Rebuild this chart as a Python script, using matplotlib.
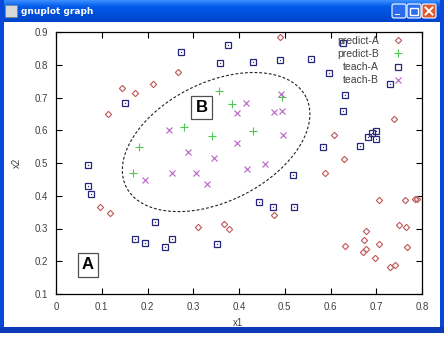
import numpy as np
import matplotlib
matplotlib.use('Agg')
import matplotlib.pyplot as plt
from matplotlib.patches import Rectangle, FancyBboxPatch

plt.rcParams['font.family'] = ['Liberation Sans', 'DejaVu Sans']

# predict-A (diamonds)
pa_x = [0.266, 0.144, 0.172, 0.211, 0.113, 0.490, 0.738, 0.608, 0.630, 0.097,
        0.119, 0.310, 0.367, 0.379, 0.589, 0.477, 0.705, 0.763, 0.785, 0.790,
        0.750, 0.765, 0.678, 0.673, 0.677, 0.670, 0.632, 0.705, 0.767, 0.698,
        0.729, 0.741]
pa_y = [0.779, 0.728, 0.714, 0.740, 0.651, 0.886, 0.633, 0.586, 0.511, 0.365,
        0.347, 0.305, 0.314, 0.298, 0.469, 0.340, 0.388, 0.388, 0.390, 0.390,
        0.312, 0.305, 0.292, 0.265, 0.238, 0.228, 0.248, 0.252, 0.244, 0.210,
        0.181, 0.188]

# predict-B (plus)
pb_x = [0.356, 0.384, 0.279, 0.340, 0.181, 0.495, 0.430, 0.168]
pb_y = [0.720, 0.679, 0.609, 0.582, 0.548, 0.701, 0.598, 0.470]

# teach-A (squares)
ta_x = [0.377, 0.273, 0.359, 0.150, 0.069, 0.627, 0.430, 0.490, 0.557, 0.596,
        0.729, 0.632, 0.628, 0.699, 0.691, 0.681, 0.700, 0.665, 0.584, 0.069,
        0.077, 0.217, 0.173, 0.194, 0.254, 0.239, 0.352, 0.517, 0.443, 0.474,
        0.521]
ta_y = [0.860, 0.840, 0.805, 0.682, 0.493, 0.866, 0.809, 0.815, 0.818, 0.775,
        0.742, 0.708, 0.659, 0.597, 0.592, 0.578, 0.572, 0.552, 0.550, 0.431,
        0.404, 0.321, 0.267, 0.257, 0.267, 0.244, 0.254, 0.463, 0.382, 0.367,
        0.367]

# teach-B (crosses)
tb_x = [0.416, 0.396, 0.247, 0.396, 0.288, 0.346, 0.417, 0.492, 0.477, 0.495,
        0.497, 0.457, 0.254, 0.305, 0.329, 0.195]
tb_y = [0.682, 0.653, 0.600, 0.560, 0.535, 0.515, 0.481, 0.711, 0.656, 0.660,
        0.585, 0.497, 0.470, 0.470, 0.437, 0.449]

x_ticks = [0, 0.1, 0.2, 0.3, 0.4, 0.5, 0.6, 0.7, 0.8]
x_labels = ['0', '0.1', '0.2', '0.3', '0.4', '0.5', '0.6', '0.7', '0.8']
y_ticks = [0.1, 0.2, 0.3, 0.4, 0.5, 0.6, 0.7, 0.8, 0.9]
y_labels = ['0.1', '0.2', '0.3', '0.4', '0.5', '0.6', '0.7', '0.8', '0.9']

W, H = 444, 342
fig = plt.figure(figsize=(W / 100, H / 100), dpi=100)
fig.patch.set_facecolor('white')

# window frame (pixel coordinates)
bg = fig.add_axes([0, 0, 1, 1])
bg.axis('off')

top = np.array([0x3a, 0x8c, 0xff]) / 255
mid = np.array([0x00, 0x5a, 0xe8]) / 255
bot = np.array([0x00, 0x44, 0xcc]) / 255
t = np.linspace(0, 1, 22)[:, None]
grad = np.where(t < 0.3, top + (mid - top) * (t / 0.3), mid + (bot - mid) * ((t - 0.3) / 0.7))
bg.imshow(grad.reshape(22, 1, 3), extent=[0, W, 22, 0], aspect='auto')
bg.set_xlim(0, W)
bg.set_ylim(H, 0)
bg.add_patch(Rectangle((0, 0), 4, 333, color='#0848d8', lw=0))
bg.add_patch(Rectangle((440, 0), 4, 333, color='#0848d8', lw=0))
bg.add_patch(Rectangle((0, 327), W, 6, color='#0a3ab8', lw=0))

# title bar icon and text
bg.add_patch(Rectangle((5, 5), 12, 12, fc='#d8d8d8', ec='#808080', lw=0.5))
bg.text(21, 11.5, 'gnuplot graph', color='white', fontsize=6.5, fontweight='bold',
        va='center', ha='left', family='DejaVu Sans')

# title bar buttons
for bx, col in [(392, '#2a6cf0'), (407, '#2a6cf0'), (422, '#e05a30')]:
    bg.add_patch(FancyBboxPatch((bx, 4), 14, 14, boxstyle='round,pad=0,rounding_size=2',
                                fc=col, ec='white', lw=0.8))
bg.add_patch(Rectangle((395, 13.5), 5, 1.6, color='white', lw=0))
bg.add_patch(Rectangle((410, 7.5), 8, 7.5, fc='none', ec='white', lw=1.0))
bg.plot([425.5, 432.5], [7.5, 14.5], color='white', lw=1.4)
bg.plot([425.5, 432.5], [14.5, 7.5], color='white', lw=1.4)

# main plot
ax = fig.add_axes([56 / W, 1 - 294 / H, 366 / W, 262 / H])
ax.set_xlim(0, 0.8)
ax.set_ylim(0.1, 0.9)

ax.plot(pa_x, pa_y, linestyle='none', marker='D', ms=3.2, mfc='none',
        mec='#c05858', mew=0.8, label='predict-A')
ax.plot(pb_x, pb_y, linestyle='none', marker='+', ms=5.5, mec='#50c850',
        mew=0.8, label='predict-B')
ax.plot(ta_x, ta_y, linestyle='none', marker='s', ms=3.8, mfc='none',
        mec='#26267a', mew=0.9, label='teach-A')
ax.plot(ta_x, ta_y, linestyle='none', marker='s', ms=0.8, mfc='#26267a',
        mec='#26267a', mew=0)
ax.plot(tb_x, tb_y, linestyle='none', marker='x', ms=4.5, mec='#b860c8',
        mew=0.8, label='teach-B')

# dashed ellipse around region B
ecx, ecy = 0.350, 0.564
ea, eb, eang = 100.5, 59.4, np.radians(26.5)
sx, sy = 0.8 / 366, 0.8 / 262
tt = np.linspace(0, 2 * np.pi, 300)
ex = ecx + (ea * np.cos(tt) * np.cos(eang) - eb * np.sin(tt) * np.sin(eang)) * sx
ey = ecy + (ea * np.cos(tt) * np.sin(eang) + eb * np.sin(tt) * np.cos(eang)) * sy
ax.plot(ex, ey, color='#202020', lw=0.8, dashes=(2.5, 1.8))

box = dict(boxstyle='square,pad=0.25', fc='white', ec='#505050', lw=0.9)
ax.text(0.318, 0.670, 'B', fontsize=12, fontweight='bold', ha='center',
        va='center', bbox=box)
ax.text(0.070, 0.189, 'A', fontsize=12, fontweight='bold', ha='center',
        va='center', bbox=box)

ax.set_xticks(x_ticks)
ax.set_xticklabels(x_labels)
ax.set_yticks(y_ticks)
ax.set_yticklabels(y_labels)
ax.tick_params(direction='in', length=4, width=0.8, top=True, right=True,
               labelsize=7, labelcolor='#404040', pad=6)
for s in ax.spines.values():
    s.set_linewidth(0.9)

fig.text(238 / W, 1 - 323 / H, 'x1', fontsize=7, color='#404040',
         ha='center', va='center')
fig.text(17 / W, 1 - 163 / H, 'x2', fontsize=7, color='#404040',
         ha='center', va='center', rotation=90)

leg = ax.legend(loc='upper right', bbox_to_anchor=((403 - 56) / 366, (294 - 36) / 262),
                frameon=False, markerfirst=False, fontsize=7.5, handlelength=1.0,
                handletextpad=1.3, labelspacing=0.3, borderpad=0, borderaxespad=0,
                numpoints=1)
for txt in leg.get_texts():
    txt.set_color('#404040')

fig.savefig('out.png', dpi=100)
